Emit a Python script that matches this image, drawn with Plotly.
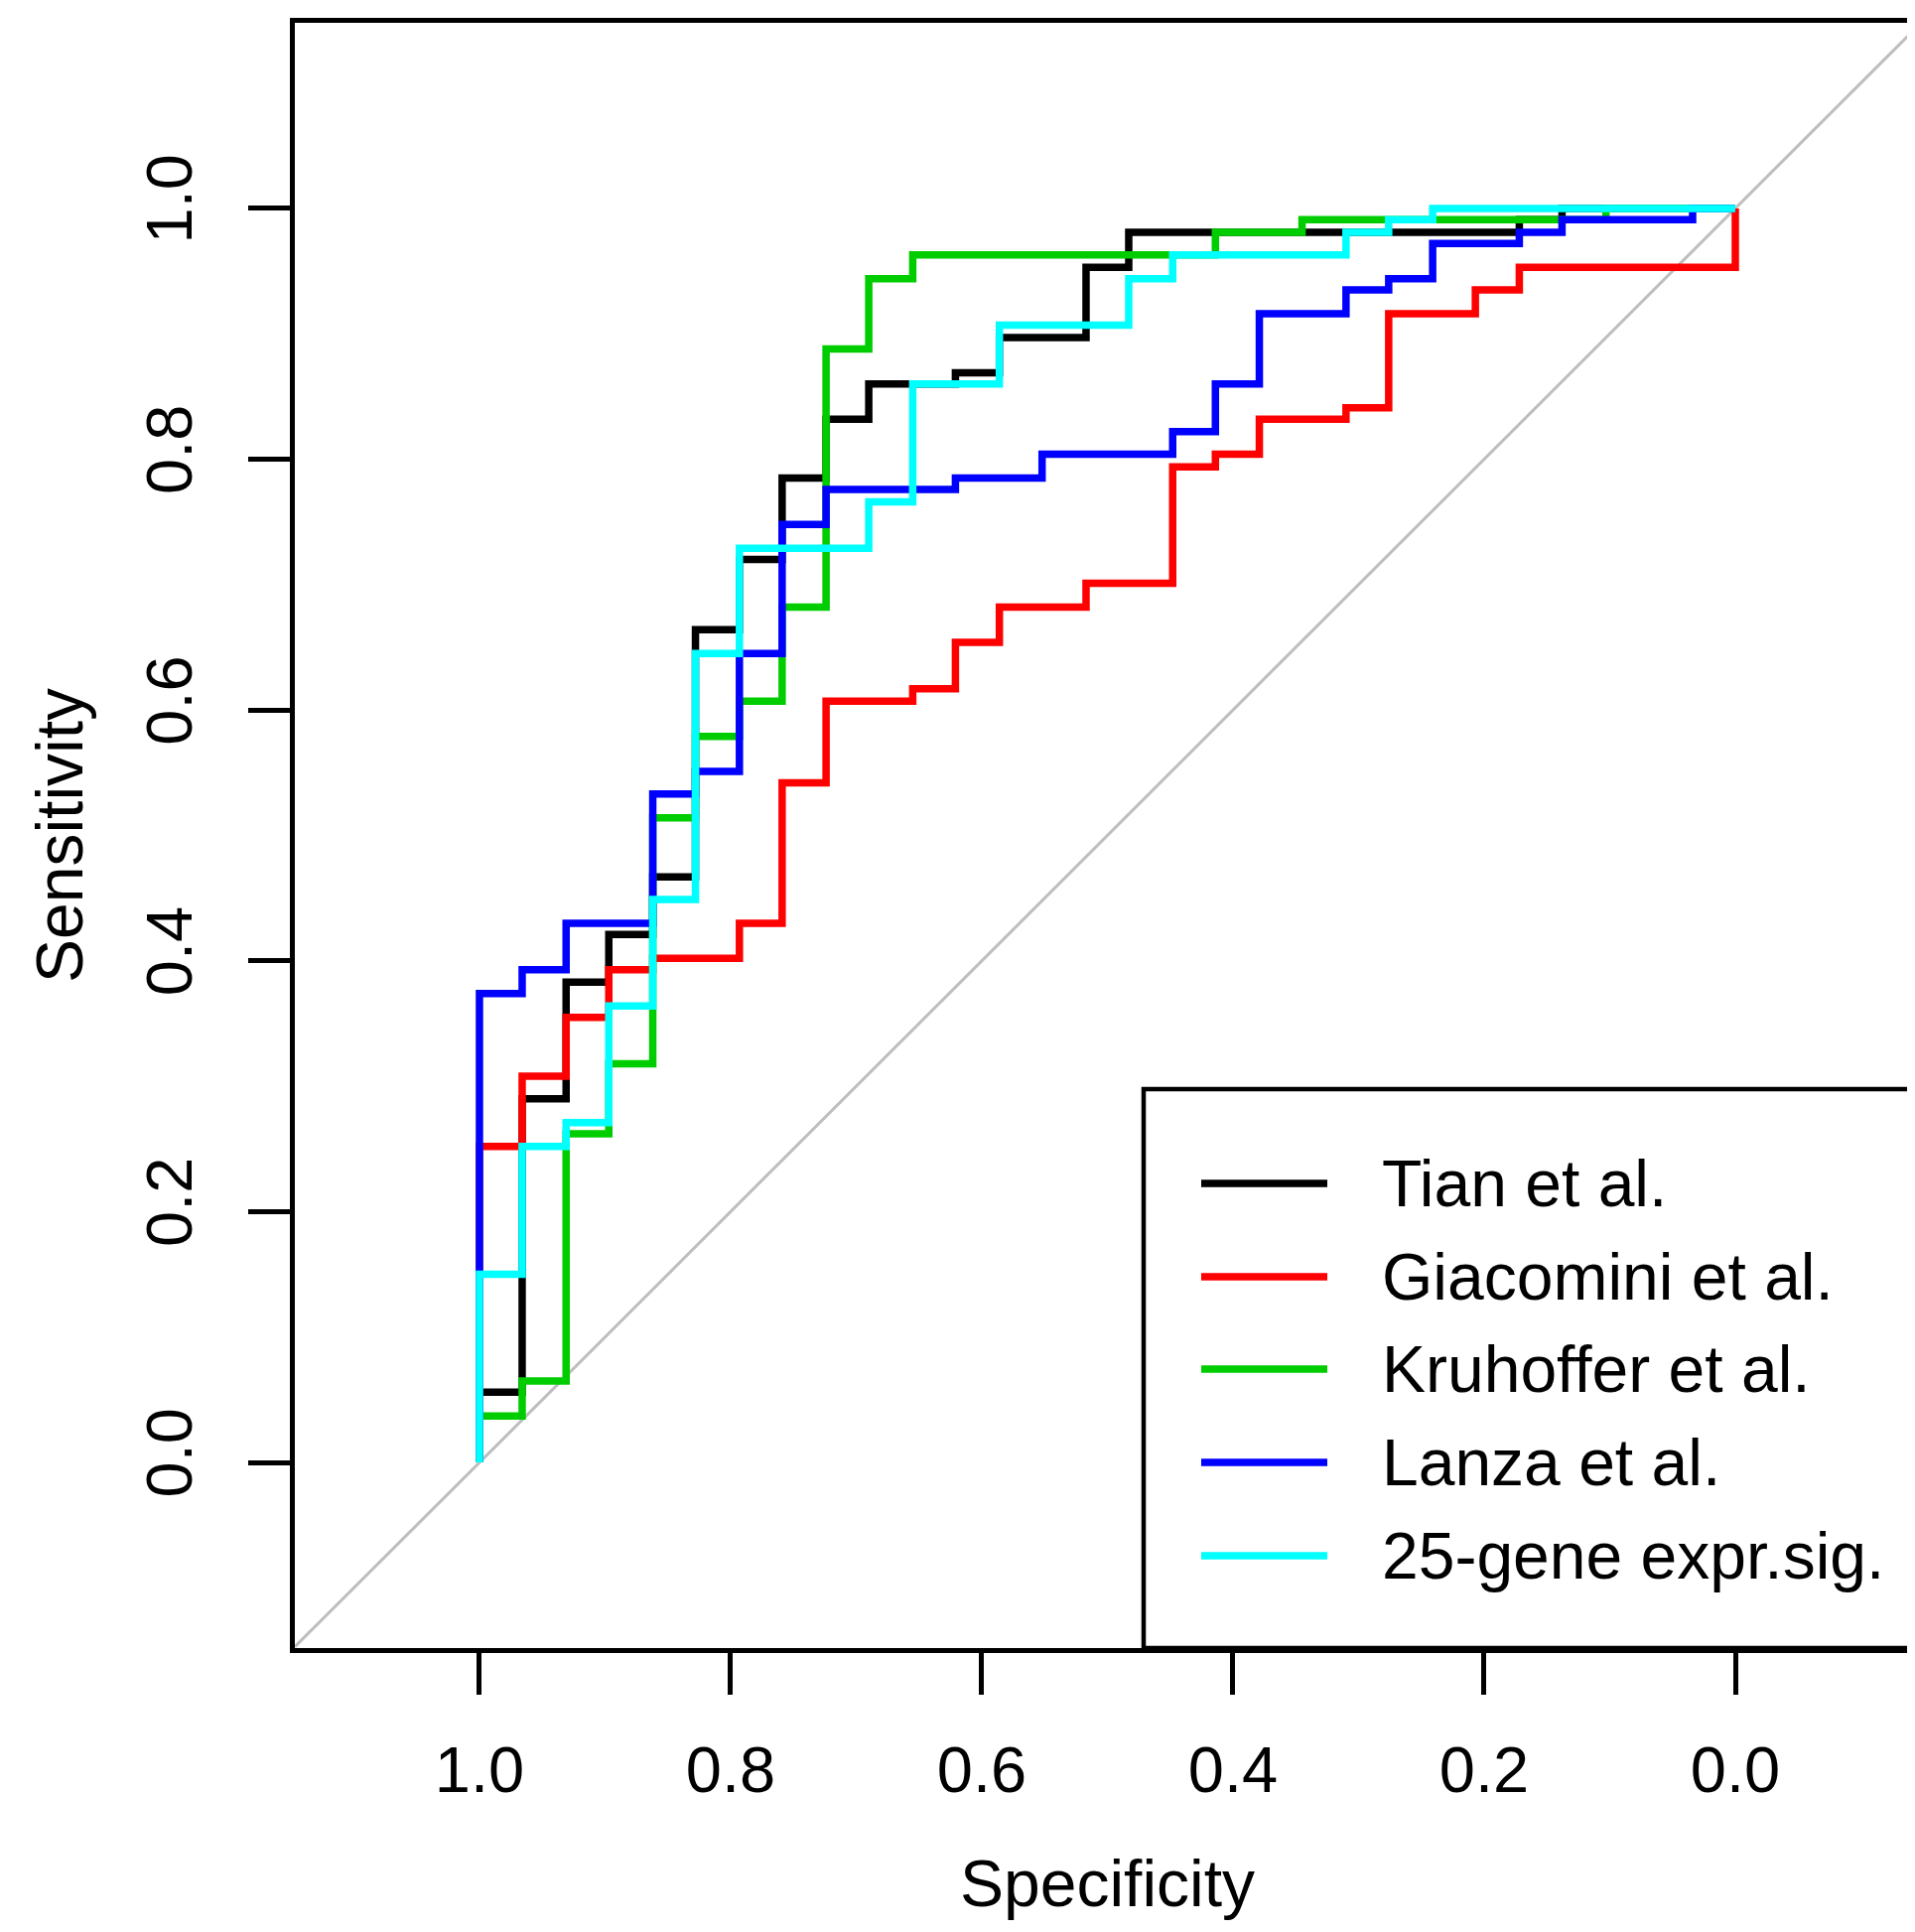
import plotly.graph_objects as go

# ---------------- data (ROC step points: specificity, sensitivity) ----------------
series_names = ["Tian et al.", "Giacomini et al.", "Kruhoffer et al.", "Lanza et al.", "25-gene expr.sig."]
series_colors = ["#000000", "#FF0000", "#00CD00", "#0000FF", "#00FFFF"]

tian_spec = [1.000, 1.000, 0.966, 0.931, 0.897, 0.862, 0.828, 0.793, 0.759, 0.724, 0.690, 0.621, 0.586, 0.517, 0.483, 0.172, 0.138, 0.000]
tian_sens = [0.000, 0.056, 0.290, 0.383, 0.421, 0.467, 0.664, 0.720, 0.785, 0.832, 0.860, 0.869, 0.897, 0.953, 0.981, 0.991, 1.000, 1.000]

giac_spec = [1.000, 1.000, 0.966, 0.931, 0.897, 0.862, 0.793, 0.759, 0.724, 0.655, 0.621, 0.586, 0.517, 0.448, 0.414, 0.379, 0.310, 0.276, 0.207, 0.172, 0.000]
giac_sens = [0.000, 0.252, 0.308, 0.355, 0.393, 0.402, 0.430, 0.542, 0.607, 0.617, 0.654, 0.682, 0.701, 0.794, 0.804, 0.832, 0.841, 0.916, 0.935, 0.953, 1.000]

kruh_spec = [1.000, 1.000, 0.966, 0.931, 0.897, 0.862, 0.828, 0.793, 0.759, 0.724, 0.690, 0.655, 0.414, 0.345, 0.103, 0.000]
kruh_sens = [0.000, 0.037, 0.065, 0.262, 0.318, 0.514, 0.579, 0.607, 0.682, 0.888, 0.944, 0.963, 0.981, 0.991, 1.000, 1.000]

lanza_spec = [1.000, 1.000, 0.966, 0.931, 0.862, 0.828, 0.793, 0.759, 0.724, 0.621, 0.552, 0.448, 0.414, 0.379, 0.310, 0.276, 0.241, 0.172, 0.138, 0.034, 0.000]
lanza_sens = [0.000, 0.374, 0.393, 0.430, 0.533, 0.551, 0.645, 0.748, 0.776, 0.785, 0.804, 0.822, 0.860, 0.916, 0.935, 0.944, 0.972, 0.981, 0.991, 1.000, 1.000]

gene25_spec = [1.000, 1.000, 0.966, 0.931, 0.897, 0.862, 0.828, 0.793, 0.690, 0.655, 0.586, 0.483, 0.448, 0.310, 0.276, 0.241, 0.000]
gene25_sens = [0.000, 0.150, 0.252, 0.271, 0.364, 0.449, 0.645, 0.729, 0.766, 0.860, 0.907, 0.944, 0.963, 0.981, 0.991, 1.000, 1.000]

tick_vals = [1.0, 0.8, 0.6, 0.4, 0.2, 0.0]
tick_text = ["1.0", "0.8", "0.6", "0.4", "0.2", "0.0"]

# ---------------- layout constants ----------------
# page pixel targets; the html body adds an 8px offset to the figure
OFF = 8
W, H = 1929, 1946
PLOT_L, PLOT_T, PLOT_B = 297, 23, 1660          # page coords
ML = PLOT_L - OFF
MT = PLOT_T - OFF
MB = H - (PLOT_B - OFF)
MR = 0
X_RANGE = [1.147, -0.1494]
Y_RANGE = [-0.148, 1.148]
FONT = "Liberation Sans, Arial, Helvetica, sans-serif"
FS = 65
PW = W - ML - MR
PH = H - MT - MB

def px(X):  # page x -> paper
    return (X - OFF - ML) / PW

def py(Y):  # page y -> paper
    return (H - MB - (Y - OFF)) / PH

fig = go.Figure()

# identity diagonal (sens = 1 - spec)
fig.add_trace(go.Scatter(x=[X_RANGE[0], X_RANGE[1]], y=[1 - X_RANGE[0], 1 - X_RANGE[1]],
                         mode="lines", line=dict(color="#BEBEBE", width=3),
                         showlegend=False, hoverinfo="skip"))

all_spec = [tian_spec, giac_spec, kruh_spec, lanza_spec, gene25_spec]
all_sens = [tian_sens, giac_sens, kruh_sens, lanza_sens, gene25_sens]
for name, col, sx, sy in zip(series_names, series_colors, all_spec, all_sens):
    fig.add_trace(go.Scatter(x=sx, y=sy, mode="lines", name=name,
                             line=dict(color=col, width=7.5, shape="hv"),
                             showlegend=False))

axis_common = dict(showgrid=False, zeroline=False, showline=True, linecolor="black", linewidth=4.5,
                   ticks="outside", ticklen=42, tickwidth=4.5, tickcolor="black",
                   tickfont=dict(family=FONT, size=FS, color="black"),
                   tickvals=tick_vals, ticktext=tick_text, autorange=False)

fig.update_xaxes(range=X_RANGE, mirror=True, ticklabelstandoff=20, **axis_common)
fig.update_yaxes(range=Y_RANGE, mirror=False, tickangle=-90, ticklabelstandoff=31, **axis_common)

shapes = []
annotations = []

# legend box (bottom right, right edge beyond the figure)
LEG_L, LEG_T = 1152, 1097
shapes.append(dict(type="rect", xref="paper", yref="paper", x0=px(LEG_L), x1=px(W + 20),
                   y0=0, y1=py(LEG_T), line=dict(color="black", width=4.5), fillcolor="white",
                   layer="above"))
leg_rows = [1192, 1286, 1379, 1473, 1567]
for name, col, Y in zip(series_names, series_colors, leg_rows):
    shapes.append(dict(type="line", xref="paper", yref="paper", x0=px(1210), x1=px(1337),
                       y0=py(Y), y1=py(Y), line=dict(color=col, width=7.5), layer="above"))
    annotations.append(dict(xref="paper", yref="paper", x=px(1390), y=py(Y), text=name,
                            showarrow=False, xanchor="left", yanchor="middle",
                            font=dict(family=FONT, size=FS + 1, color="black")))

# axis titles
annotations.append(dict(xref="paper", yref="paper", x=px(1115), y=py(1897), text="Specificity",
                        showarrow=False, xanchor="center", yanchor="middle",
                        font=dict(family=FONT, size=FS + 1, color="black")))
annotations.append(dict(xref="paper", yref="paper", x=px(60), y=py(842), text="Sensitivity",
                        showarrow=False, xanchor="center", yanchor="middle", textangle=-90,
                        font=dict(family=FONT, size=FS + 1, color="black")))

fig.update_layout(width=W, height=H, margin=dict(l=ML, r=MR, t=MT, b=MB, pad=0, autoexpand=False),
                  paper_bgcolor="white", plot_bgcolor="white", showlegend=False,
                  shapes=shapes, annotations=annotations)

fig.write_html("out.html")
